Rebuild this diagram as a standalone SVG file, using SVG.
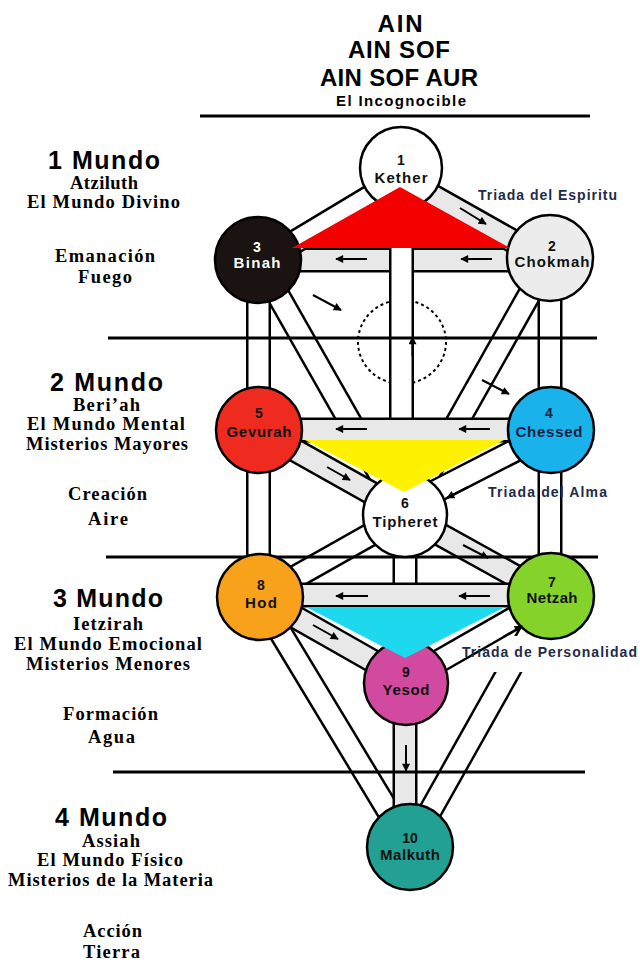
<svg xmlns="http://www.w3.org/2000/svg" width="640" height="962" viewBox="0 0 640 962">
<defs>
<marker id="ah" viewBox="0 0 10 10" refX="9" refY="5" markerWidth="9" markerHeight="8" markerUnits="userSpaceOnUse" orient="auto"><path d="M0,0 L10,5 L0,10 z" fill="#000"/></marker>
<style>
.o{stroke:#000;stroke-width:25;fill:none}
.w{stroke:#fff;stroke-width:20;fill:none}
.g{stroke:#e8e8e8;stroke-width:20;fill:none}
.wl{stroke:#000;stroke-width:3}
.ar{stroke:#000;stroke-width:2;fill:none;marker-end:url(#ah)}
.nd{stroke:#000;stroke-width:2.5}
.nn{font-family:"Liberation Sans",Arial,sans-serif;font-weight:bold;font-size:14px;text-anchor:middle;fill:#111}
.nl{font-family:"Liberation Sans",Arial,sans-serif;font-weight:bold;font-size:15px;text-anchor:middle;fill:#111}
.sr{font-family:"Liberation Serif","Times New Roman",serif;font-weight:bold;font-size:18.5px;text-anchor:middle;fill:#000}
.mu{font-family:"Liberation Sans",Arial,sans-serif;font-weight:bold;font-size:25px;text-anchor:middle;fill:#000}
.tr{font-family:"Liberation Sans",Arial,sans-serif;font-weight:bold;font-size:14px;fill:#1e2b4a}
.tt{font-family:"Liberation Sans",Arial,sans-serif;font-weight:bold;text-anchor:middle;fill:#000}
</style>
</defs>
<rect width="640" height="962" fill="#fff"/>

<!-- title -->
<g id="title">
<text class="tt" x="400" y="32" font-size="24" textLength="45">AIN</text>
<text class="tt" x="399" y="58" font-size="24" textLength="102">AIN SOF</text>
<text class="tt" x="399" y="86" font-size="24" textLength="158">AIN SOF AUR</text>
<text class="tt" x="401" y="106" font-size="15" textLength="130">El Incognocible</text>
</g>

<ellipse id="dashed-circle" cx="402" cy="342" rx="44" ry="42" fill="none" stroke="#000" stroke-width="2" stroke-dasharray="3 3"/>

<g id="connectors">
<!-- Binah-Tipheret -->
<line class="o" x1="258" y1="260" x2="403" y2="515"/><line class="w" x1="258" y1="260" x2="403" y2="515"/>
<!-- Chokmah-Tipheret -->
<line class="o" x1="550" y1="258" x2="405" y2="515"/><line class="w" x1="550" y1="258" x2="405" y2="515"/>
<!-- Binah-Chokmah -->
<line class="o" x1="258" y1="260" x2="550" y2="260"/><line class="g" x1="258" y1="260" x2="550" y2="260"/>
<!-- Kether-Tipheret -->
<line class="o" x1="401.5" y1="168" x2="401.5" y2="515"/><line class="w" x1="401.5" y1="168" x2="401.5" y2="515"/>
<!-- Kether-Binah -->
<line class="o" x1="401" y1="178" x2="258" y2="264"/><line class="w" x1="401" y1="178" x2="258" y2="264"/>
<!-- Kether-Chokmah -->
<line class="o" x1="401" y1="178" x2="550" y2="262"/><line class="g" x1="401" y1="178" x2="550" y2="262"/>
<!-- Binah-Gevurah -->
<line class="o" x1="258.5" y1="260" x2="258.5" y2="430"/><line class="w" x1="258.5" y1="260" x2="258.5" y2="430"/>
<!-- Chokmah-Chessed -->
<line class="o" x1="550" y1="258" x2="550" y2="430"/><line class="w" x1="550" y1="258" x2="550" y2="430"/>
<!-- Gevurah-Chessed -->
<line class="o" x1="259" y1="430" x2="551" y2="430"/><line class="g" x1="259" y1="430" x2="551" y2="430"/>
<!-- Gevurah-Tipheret -->
<line class="o" x1="259" y1="430" x2="405" y2="512"/><line class="g" x1="259" y1="430" x2="405" y2="512"/>
<!-- Chessed-Tipheret -->
<line class="o" x1="551" y1="432" x2="405" y2="507"/><line class="w" x1="551" y1="432" x2="405" y2="507"/>
<!-- Tipheret-Hod -->
<line class="o" x1="405" y1="515" x2="260" y2="597"/><line class="w" x1="405" y1="515" x2="260" y2="597"/>
<!-- Tipheret-Netzah -->
<line class="o" x1="405" y1="515" x2="551" y2="596"/><line class="g" x1="405" y1="515" x2="551" y2="596"/>
<!-- Tipheret-Yesod -->
<line class="o" x1="405" y1="515" x2="405" y2="683"/><line class="w" x1="405" y1="515" x2="405" y2="683"/>
<!-- Gevurah-Hod -->
<line class="o" x1="258.5" y1="430" x2="258.5" y2="597"/><line class="w" x1="258.5" y1="430" x2="258.5" y2="597"/>
<!-- Chessed-Netzah -->
<line class="o" x1="550" y1="430" x2="550" y2="596"/><line class="w" x1="550" y1="430" x2="550" y2="596"/>
<!-- Hod-Netzah -->
<line class="o" x1="260" y1="595" x2="551" y2="595"/><line class="g" x1="260" y1="595" x2="551" y2="595"/>
<!-- Hod-Malkuth -->
<line class="o" x1="259" y1="597" x2="410" y2="847"/><line class="w" x1="259" y1="597" x2="410" y2="847"/>
<!-- Netzah-Malkuth (upper part hidden behind the label area) -->
<line class="o" x1="551" y1="596" x2="410" y2="847"/><line class="w" x1="551" y1="596" x2="410" y2="847"/>
<rect x="470" y="636" width="130" height="36" fill="#fff"/>
<!-- Hod-Yesod -->
<line class="o" x1="260" y1="597" x2="406" y2="680"/><line class="g" x1="260" y1="597" x2="406" y2="680"/>
<!-- Netzah-Yesod -->
<line class="o" x1="551" y1="597" x2="406" y2="680"/><line class="w" x1="551" y1="597" x2="406" y2="680"/>
<!-- Yesod-Malkuth -->
<line class="o" x1="405" y1="683" x2="405" y2="847"/><line class="g" x1="405" y1="683" x2="405" y2="847"/>

<!-- world lines -->
<line class="wl" x1="200" y1="116" x2="590" y2="116"/>
<line class="wl" x1="108" y1="338" x2="597" y2="338"/>
<line class="wl" x1="106" y1="557" x2="598" y2="557"/>
<line class="wl" x1="113" y1="772" x2="585" y2="772" stroke-width="4"/>
</g>

<g id="n1-kether"><circle class="nd" cx="401" cy="168" r="41" fill="#fff"/><text class="nn" x="401" y="165">1</text><text class="nl" x="401" y="183" textLength="53">Kether</text></g>
<g id="n2-chokmah"><circle class="nd" cx="550" cy="258" r="43" fill="#ececec"/><text class="nn" x="552" y="251">2</text><text class="nl" x="552" y="267" textLength="75">Chokmah</text></g>
<g id="n3-binah"><circle class="nd" cx="258" cy="260" r="43" fill="#1a1311"/><text class="nn" x="257" y="252" style="fill:#fff">3</text><text class="nl" x="257" y="268" textLength="47" style="fill:#fff">Binah</text></g>
<g id="n5-gevurah"><circle class="nd" cx="259" cy="430" r="43" fill="#ef2b20"/><text class="nn" x="259" y="418">5</text><text class="nl" x="259" y="437" textLength="65">Gevurah</text></g>
<g id="n4-chessed"><circle class="nd" cx="551" cy="430" r="43" fill="#19b2ea"/><text class="nn" x="549" y="418" style="fill:#10203f">4</text><text class="nl" x="549" y="437" textLength="67" style="fill:#10203f">Chessed</text></g>
<g id="n6-tipheret"><circle class="nd" cx="405" cy="515" r="42" fill="#fff"/><text class="nn" x="405" y="508">6</text><text class="nl" x="405" y="527" textLength="65">Tipheret</text></g>
<g id="n8-hod"><circle class="nd" cx="260" cy="597" r="43" fill="#f8a21b"/><text class="nn" x="261" y="590">8</text><text class="nl" x="261" y="608" textLength="32">Hod</text></g>
<g id="n7-netzah"><circle class="nd" cx="551" cy="596" r="43" fill="#84d22a"/><text class="nn" x="552" y="587">7</text><text class="nl" x="552" y="603" textLength="51">Netzah</text></g>
<g id="n9-yesod"><circle class="nd" cx="406" cy="683" r="42" fill="#d24a9f"/><text class="nn" x="406" y="677">9</text><text class="nl" x="406" y="695" textLength="47">Yesod</text></g>
<g id="n10-malkuth"><circle class="nd" cx="410" cy="847" r="43" fill="#22a093"/><text class="nn" x="410" y="843">10</text><text class="nl" x="410" y="860" textLength="60">Malkuth</text></g>

<g id="triads">
<polygon points="292,248 510,248 400,187" fill="#f50000"/>
<polygon points="305,440 504,440 404,492" fill="#fff200"/>
<polygon points="306,607 505,607 405,658" fill="#1ed9ee"/>
</g>

<g id="arrows">
<line class="ar" x1="460" y1="208" x2="486" y2="224"/>
<line class="ar" x1="367" y1="259" x2="336" y2="259"/>
<line class="ar" x1="492" y1="259" x2="461" y2="259"/>
<line class="ar" x1="313" y1="295" x2="341" y2="310"/>
<line class="ar" x1="412.5" y1="356" x2="412.5" y2="337"/>
<line class="ar" x1="482" y1="380" x2="509" y2="394"/>
<line class="ar" x1="367" y1="429" x2="336" y2="429"/>
<line class="ar" x1="490" y1="429" x2="459" y2="429"/>
<line class="ar" x1="327" y1="467" x2="350" y2="480"/>
<line class="ar" x1="468" y1="487" x2="447" y2="498"/>
<line class="ar" x1="463" y1="545" x2="488" y2="558"/>
<line class="ar" x1="368" y1="596" x2="336" y2="596"/>
<line class="ar" x1="490" y1="596" x2="459" y2="596"/>
<line class="ar" x1="313" y1="625" x2="338" y2="639"/>
<line class="ar" x1="503" y1="637" x2="522" y2="626"/>
<line class="ar" x1="406" y1="745" x2="406" y2="771"/>
</g>

<g id="triad-labels">
<text class="tr" x="478" y="200" textLength="139">Triada del Espiritu</text>
<text class="tr" x="488" y="497" textLength="119">Triada del Alma</text>
<text class="tr" x="462" y="657" textLength="175">Triada de Personalidad</text>
</g>

<g id="world1">
<text class="mu" x="104" y="169" textLength="112">1 Mundo</text>
<text class="sr" x="104" y="188.5" textLength="68">Atziluth</text>
<text class="sr" x="103.5" y="208" textLength="153">El Mundo Divino</text>
<text class="sr" x="105" y="262" textLength="100">Emanación</text>
<text class="sr" x="105" y="283" textLength="54">Fuego</text>
</g>
<g id="world2">
<text class="mu" x="106.5" y="391" textLength="113">2 Mundo</text>
<text class="sr" x="106.5" y="410.5" textLength="67">Beri’ah</text>
<text class="sr" x="106" y="430" textLength="158">El Mundo Mental</text>
<text class="sr" x="107" y="449.5" textLength="162">Misterios Mayores</text>
<text class="sr" x="107.5" y="500" textLength="79">Creación</text>
<text class="sr" x="108" y="525" textLength="40">Aire</text>
</g>
<g id="world3">
<text class="mu" x="108" y="607" textLength="110">3 Mundo</text>
<text class="sr" x="108" y="630" textLength="70">Ietzirah</text>
<text class="sr" x="108" y="650" textLength="188">El Mundo Emocional</text>
<text class="sr" x="108" y="669.5" textLength="164">Misterios Menores</text>
<text class="sr" x="110.5" y="720" textLength="95">Formación</text>
<text class="sr" x="111.5" y="743" textLength="47">Agua</text>
</g>
<g id="world4">
<text class="mu" x="111" y="826" textLength="112">4 Mundo</text>
<text class="sr" x="111" y="846.5" textLength="58">Assiah</text>
<text class="sr" x="110" y="866" textLength="146">El Mundo Físico</text>
<text class="sr" x="110.5" y="885.5" textLength="205">Misterios de la Materia</text>
<text class="sr" x="112.5" y="937" textLength="59">Acción</text>
<text class="sr" x="111.5" y="958" textLength="57">Tierra</text>
</g>
</svg>
